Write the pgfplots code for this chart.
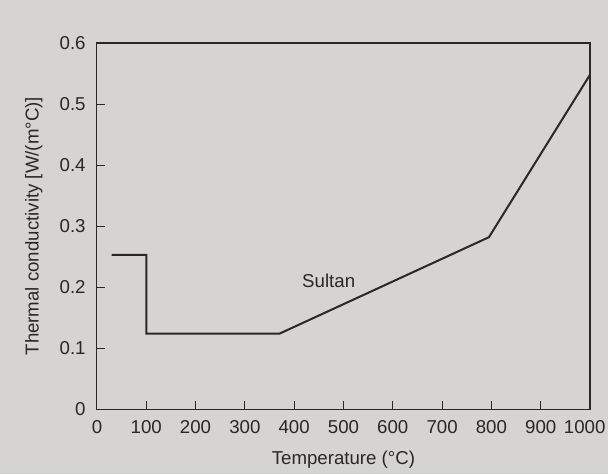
\documentclass[border=0pt]{standalone}
\usepackage{pgfplots}
\pgfplotsset{compat=1.18}
\usepackage{fontspec}
\setmainfont{Liberation Sans}
\definecolor{bg}{RGB}{214,212,208}
\definecolor{ink}{RGB}{40,40,40}
\begin{document}
\begin{tikzpicture}
\fill[bg] (-72.75pt,-48.75pt) rectangle (383.5pt,307.25pt);
\useasboundingbox (-72.75pt,-48.75pt) rectangle (383.5pt,307.25pt);
\begin{axis}[
  at={(0,0)}, anchor=south west,
  width=370pt, height=275pt, scale only axis,
  xmin=0, xmax=1000, ymin=0, ymax=0.6,
  xtick={0,100,...,900},
  extra x ticks={1000},
  extra x tick style={xticklabel style={xshift=-4pt}},
  ytick={0,0.1,...,0.6},
  yticklabels={0,0.1,0.2,0.3,0.4,0.5,0.6},
  xticklabel style={/pgf/number format/1000 sep={}, yshift=-5pt},
  yticklabel style={xshift=-5pt},
  xtick pos=left, ytick pos=left,
  tick align=inside,
  major tick length=6pt,
  axis line style={ink, line width=0.8pt},
  every tick/.style={ink, line width=0.8pt},
  tick label style={font=\fontsize{14}{16}\selectfont, text=ink},
  label style={font=\fontsize{14}{16}\selectfont, text=ink},
  /pgf/number format/assume math mode=true,
  xlabel={Temperature (°C)},
  ylabel={Thermal conductivity [W/(m°C)]},
  xlabel style={yshift=-6pt},
  ylabel style={yshift=6pt},
]
\addplot[ink, line width=1.5pt, mark=none] coordinates {
  (30,0.253) (100,0.253) (100,0.124) (370,0.124) (795,0.282) (1000,0.548)
};
\node[text=ink, font=\fontsize{14}{16}\selectfont] at (axis cs:470,0.21) {Sultan};
\end{axis}
\end{tikzpicture}
\end{document}
